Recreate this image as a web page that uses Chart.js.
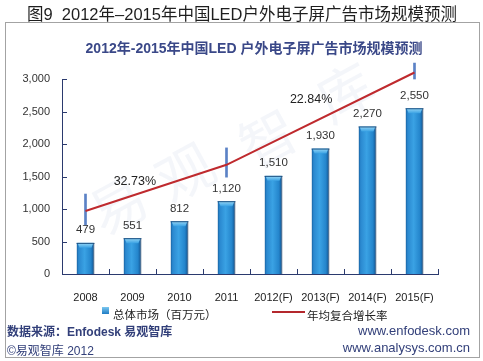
<!DOCTYPE html>
<html><head><meta charset="utf-8">
<script src="https://cdn.jsdelivr.net/npm/chart.js@4/dist/chart.umd.min.js"></script>
<style>
html,body{margin:0;padding:0;background:#fff;width:483px;height:361px;overflow:hidden;}
body{position:relative;font-family:"Liberation Sans","Noto Sans CJK SC",sans-serif;}
#c{position:absolute;left:0;top:0;}
.t{position:absolute;line-height:1;white-space:pre;}
#frame{position:absolute;left:5px;top:22px;width:475px;height:336px;border:1px solid #a3a3a3;box-sizing:border-box;}
</style></head>
<body>
<div id="frame"></div>
<canvas id="c" width="483" height="361"></canvas>
<div class="t" style="left:27px;top:6px;font-size:16.5px;color:#1e1e1e;">图9  2012年–2015年中国LED户外电子屏广告市场规模预测</div>
<div class="t" style="left:0;width:508px;text-align:center;top:41px;font-size:14px;font-weight:bold;color:#3a4888;">2012年-2015年中国LED 户外电子屏广告市场规模预测</div>
<div style="position:absolute;left:102px;top:307px;width:7px;height:7px;background:linear-gradient(#7cc8f0,#1f7cc4);"></div>
<div class="t" style="left:113px;top:310px;font-size:11.5px;color:#222;">总体市场（百万元）</div>
<div style="position:absolute;left:272px;top:311px;width:33px;height:2px;background:#b4282d;"></div>
<div class="t" style="left:307px;top:311px;font-size:11.5px;color:#222;">年均复合增长率</div>
<div class="t" style="left:7px;top:326px;font-size:12px;font-weight:bold;color:#33407a;">数据来源：Enfodesk 易观智库</div>
<div class="t" style="left:7px;top:345px;font-size:12px;color:#33407a;">©易观智库 2012</div>
<div class="t" style="right:13px;top:324px;font-size:13px;color:#33407a;">www.enfodesk.com</div>
<div class="t" style="right:13px;top:341px;font-size:13px;color:#33407a;">www.analysys.com.cn</div>
<script>
const categories = ["2008","2009","2010","2011","2012(F)","2013(F)","2014(F)","2015(F)"];
const marketValues = [479, 551, 812, 1120, 1510, 1930, 2270, 2550];
const cagrLine = [970, null, null, 1680, null, null, null, 3100];
const markerRanges = [[750,1230], null, null, [1490,1940], null, null, null, [3000,3245]];
const cagrLabels = ["32.73%", "22.84%"];
const cagrLabelAt = [[1.05, 1415], [4.8, 2690]];
const yTicks = [0, 500, 1000, 1500, 2000, 2500, 3000];

const navy = '#2b3a6e';

function barGradient(ctx){
  const chart = ctx.chart;
  const xs = chart.scales && chart.scales.x;
  if (!xs || ctx.dataIndex === undefined) return '#2b8fd6';
  const px = xs.getPixelForValue(ctx.dataIndex);
  if (!isFinite(px)) return '#2b8fd6';
  const g = chart.ctx.createLinearGradient(px-9, 0, px+9, 0);
  g.addColorStop(0, '#155d9c');
  g.addColorStop(0.12, '#2a88cf');
  g.addColorStop(0.45, '#3aa2e4');
  g.addColorStop(0.8, '#2485cc');
  g.addColorStop(0.93, '#175f9e');
  g.addColorStop(1, '#0c2f52');
  return g;
}

const watermark = {
  id:'watermark',
  beforeDatasetsDraw(chart){
    const c = chart.ctx;
    c.save();
    c.fillStyle = 'rgba(170,185,220,0.13)';
    c.font = '56px "Noto Sans CJK SC"';
    c.textAlign='center'; c.textBaseline='middle';
    const chars = [['易',118,205],['观',185,172],['智',268,138],['库',345,92]];
    chars.forEach(([ch,x,y])=>{c.save();c.translate(x,y);c.rotate(-0.5);c.fillText(ch,0,0);c.restore();});
    c.restore();
  }
};

const decor = {
  id:'decor',
  afterDatasetsDraw(chart){
    const c = chart.ctx, xs = chart.scales.x, ys = chart.scales.y;
    c.save();
    const meta = chart.getDatasetMeta(0);
    // bar top bevel highlight
    meta.data.forEach(el=>{
      const w = el.width, x0 = el.x - w/2, y0 = el.y;
      const g = c.createLinearGradient(0, y0, 0, y0+5);
      g.addColorStop(0, '#9ad8f6'); g.addColorStop(1, '#3aa2e4');
      c.fillStyle = g;
      c.beginPath();
      c.moveTo(x0+1, y0); c.lineTo(x0+w-1, y0); c.lineTo(x0+w-3, y0+5); c.lineTo(x0+3, y0+5); c.closePath();
      c.fill();
      c.strokeStyle = '#1b4f80'; c.lineWidth = 1;
      c.beginPath(); c.moveTo(x0, y0+0.5); c.lineTo(x0+w, y0+0.5); c.stroke();
    });
    c.strokeStyle = navy; c.lineWidth = 1;
    c.beginPath();
    yTicks.forEach(v=>{const py=Math.round(ys.getPixelForValue(v))+0.5; c.moveTo(xs.left, py); c.lineTo(xs.left+5, py);});
    const n = categories.length;
    for(let i=1;i<=n;i++){const px=Math.round(xs.left + i*(xs.right-xs.left)/n)+0.5; c.moveTo(px, ys.bottom); c.lineTo(px, ys.bottom-5);}
    c.stroke();
    c.fillStyle = '#333'; c.font = '11.5px "Liberation Sans"';
    c.textAlign='center'; c.textBaseline='bottom';
    meta.data.forEach((el,i)=>{c.fillText(marketValues[i].toLocaleString('en-US'), el.x, el.y-7);});
    c.font = '12.5px "Liberation Sans"'; c.fillStyle='#222'; c.textBaseline='middle';
    cagrLabels.forEach((t,i)=>{c.fillText(t, xs.getPixelForValue(cagrLabelAt[i][0]), ys.getPixelForValue(cagrLabelAt[i][1]));});
    c.restore();
  }
};

new Chart(document.getElementById('c'), {
  data:{
    labels: categories,
    datasets:[
      {type:'bar', label:'总体市场（百万元）', data: marketValues, backgroundColor: barGradient,
       borderColor:'#0d2f55', borderWidth:{left:0,right:1,top:0,bottom:0}, borderSkipped:false,
       categoryPercentage:1, barPercentage:0.38, grouped:false, order:3},
      {type:'bar', label:'marker', data: markerRanges, backgroundColor:'#5b82c6', barThickness:2,
       grouped:false, clip:false, order:2},
      {type:'line', label:'年均复合增长率', data: cagrLine, borderColor:'#bf2a2e', borderWidth:2,
       pointRadius:0, spanGaps:true, clip:false, order:1, tension:0}
    ]
  },
  options:{
    responsive:false, animation:false,
    layout:{padding:{left:0,top:79,right:45,bottom:0}},
    plugins:{legend:{display:false}, tooltip:{enabled:false}},
    scales:{
      x:{offset:true, grid:{display:false, drawTicks:false}, border:{display:true,color:navy,width:1},
         ticks:{color:'#222', font:{family:'Liberation Sans',size:11}, padding:17, maxRotation:0, autoSkip:false},
         afterFit(s){s.height=87;}},
      y:{min:0,max:3000, grid:{display:false, drawTicks:false}, border:{display:true,color:navy,width:1},
         ticks:{stepSize:500, color:'#333', font:{family:'Liberation Sans',size:11}, padding:12},
         afterFit(s){s.width=62;}}
    }
  },
  plugins:[watermark, decor]
});
</script>
</body></html>
